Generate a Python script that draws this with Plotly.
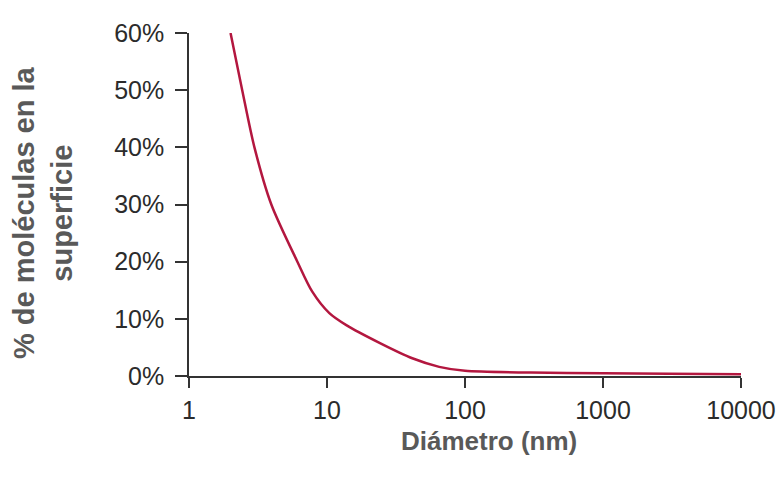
import plotly.graph_objects as go

diameter_nm = [2, 2.43, 2.98, 3.95, 6.1, 7.8, 10.4, 13.8, 24, 41.5, 65, 100, 300, 1000, 3000, 10000]
surface_pct = [60, 50, 40, 30, 20, 14.8, 11.0, 8.9, 5.8, 3.1, 1.6, 0.9, 0.6, 0.5, 0.4, 0.3]

x_ticks = [1, 10, 100, 1000, 10000]
x_labels = ["1", "10", "100", "1000", "10000"]
y_ticks = [0, 10, 20, 30, 40, 50, 60]
y_labels = ["0%", "10%", "20%", "30%", "40%", "50%", "60%"]

x_title = "Diámetro (nm)"
y_title = "% de moléculas en la<br>superficie"

fig = go.Figure()
fig.add_trace(go.Scatter(
    x=diameter_nm, y=surface_pct, mode="lines",
    line=dict(color="#b3173f", width=2.5, shape="spline", smoothing=0.8),
    showlegend=False, hoverinfo="x+y",
))

tick_font = dict(family="Liberation Sans, Arial, sans-serif", size=25, color="#2b2b2b")
title_font_family = "Liberation Sans, Arial, sans-serif"

fig.update_layout(
    width=784, height=484,
    margin=dict(l=189, r=43, t=33, b=108),
    paper_bgcolor="white", plot_bgcolor="white",
    xaxis=dict(
        type="log", range=[0, 4], automargin=False,
        tickvals=x_ticks, ticktext=x_labels,
        showgrid=False, zeroline=False,
        showline=True, linecolor="#333333", linewidth=1.5,
        ticks="outside", ticklen=10, tickwidth=1.5, tickcolor="#333333",
        tickfont=tick_font, ticklabelstandoff=1,
    ),
    yaxis=dict(
        range=[0, 60], automargin=False,
        tickvals=y_ticks, ticktext=y_labels,
        showgrid=False, zeroline=False,
        showline=True, linecolor="#333333", linewidth=1.5,
        ticks="outside", ticklen=12, tickwidth=1.5, tickcolor="#333333",
        tickfont=tick_font, ticklabelstandoff=6,
    ),
    annotations=[
        dict(text="<b>" + x_title + "</b>", xref="paper", yref="paper",
             x=0.543, y=-0.19, xanchor="center", yanchor="middle", showarrow=False,
             font=dict(family=title_font_family, size=26, color="#595959")),
        dict(text="<b>" + y_title + "</b>", xref="paper", yref="paper",
             x=-0.2645, y=0.478, xanchor="center", yanchor="middle", showarrow=False,
             textangle=-90,
             font=dict(family=title_font_family, size=29, color="#595959")),
    ],
)

fig.write_html("out.html")
